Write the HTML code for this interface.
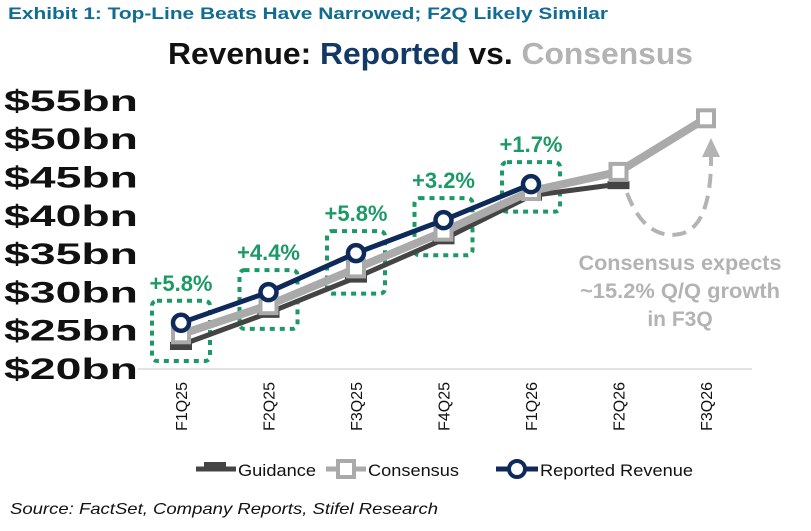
<!DOCTYPE html>
<html><head><meta charset="utf-8"><style>
body{margin:0;width:811px;height:526px;background:#fff;font-family:"Liberation Sans",Arial,sans-serif;overflow:hidden}
</style></head><body>
<svg width="811" height="526" xmlns="http://www.w3.org/2000/svg">
<text x="8" y="19" font-size="17" font-weight="bold" fill="#0f6c93" textLength="600" lengthAdjust="spacingAndGlyphs">Exhibit 1: Top-Line Beats Have Narrowed; F2Q Likely Similar</text>
<text x="168" y="64" font-size="31" font-weight="bold" textLength="525" lengthAdjust="spacingAndGlyphs"><tspan fill="#111">Revenue: </tspan><tspan fill="#133a64">Reported</tspan><tspan fill="#111"> vs. </tspan><tspan fill="#b3b3b3">Consensus</tspan></text>
<g id="yaxis"></g>
<g id="xaxis"></g>
<line x1="138" y1="369" x2="752" y2="369" stroke="#d9d9d9" stroke-width="1.5"/>
<g id="boxes"></g>
<g id="series"></g>
<path d="M627,193 C640,228 660,238 680,234 C700,230 712,205 711,152" fill="none" stroke="#b3b3b3" stroke-width="4" stroke-dasharray="14,8"/>
<path d="M711,138 L702,157 L720,157 Z" fill="#b3b3b3"/>
<text font-size="21" font-weight="bold" fill="#b3b3b3" text-anchor="middle"><tspan x="680" y="270" textLength="203" lengthAdjust="spacingAndGlyphs">Consensus expects</tspan><tspan x="680" y="298" textLength="200" lengthAdjust="spacingAndGlyphs">~15.2% Q/Q growth</tspan><tspan x="680" y="326">in F3Q</tspan></text>
<g>
<line x1="196" y1="469" x2="236" y2="469" stroke="#444" stroke-width="5"/><rect x="204" y="462" width="22" height="9" fill="#444"/>
<text x="238" y="476" font-size="17" fill="#111" textLength="78" lengthAdjust="spacingAndGlyphs">Guidance</text>
<line x1="326" y1="469" x2="366" y2="469" stroke="#aaa" stroke-width="5"/><rect x="338" y="461" width="16" height="16" fill="#fff" stroke="#aaa" stroke-width="4"/>
<text x="368" y="476" font-size="17" fill="#111" textLength="91" lengthAdjust="spacingAndGlyphs">Consensus</text>
<line x1="496" y1="469" x2="538" y2="469" stroke="#0e2a5a" stroke-width="5"/><circle cx="517" cy="469" r="8" fill="#fff" stroke="#0e2a5a" stroke-width="4"/>
<text x="540" y="476" font-size="17" fill="#111" textLength="153" lengthAdjust="spacingAndGlyphs">Reported Revenue</text>
</g>
<text x="10" y="514" font-size="16" font-style="italic" fill="#111" textLength="428" lengthAdjust="spacingAndGlyphs">Source: FactSet, Company Reports, Stifel Research</text>
</svg>
<script>
const categories=["F1Q25","F2Q25","F3Q25","F4Q25","F1Q26","F2Q26","F3Q26"];
const guidance=[23.0,27.2,31.8,36.8,42.5,44.0,null];
const consensus=[24.4,28.2,33.0,37.8,43.1,45.6,52.6];
const reported=[25.9,29.9,35.0,39.3,44.0,null,null];
const beatLabels=["+5.8%","+4.4%","+5.8%","+3.2%","+1.7%"];
const yTicks=[20,25,30,35,40,45,50,55];
const NS="http://www.w3.org/2000/svg";
const x=i=>181+i*87.5;
const y=v=>368-(v-20)*7.66;
function mk(p,tag,a){const e=document.createElementNS(NS,tag);for(const k in a)e.setAttribute(k,a[k]);p.appendChild(e);return e;}
const ya=document.getElementById('yaxis');
yTicks.forEach(t=>{const e=mk(ya,'text',{x:4,y:y(t)+11,'font-size':30,'font-weight':'bold',fill:'#111',textLength:134,lengthAdjust:'spacingAndGlyphs'});e.textContent='$'+t+'bn';

});
const xa=document.getElementById('xaxis');
categories.forEach((c,i)=>{const e=mk(xa,'text',{x:0,y:0,'font-size':16,fill:'#111','text-anchor':'end',transform:`translate(${x(i)+6},382) rotate(-90)`});e.textContent=c;

});
const bx=document.getElementById('boxes');
beatLabels.forEach((l,i)=>{const top=y(reported[i])-22,bot=y(guidance[i])+16;
const r=mk(bx,'rect',{x:x(i)-29,y:top,width:58,height:bot-top,rx:5,fill:'none',stroke:'#1c9a66','stroke-width':4,'stroke-dasharray':'5,5'});


const t=mk(bx,'text',{x:x(i),y:top-10,'text-anchor':'middle','font-size':22,'font-weight':'bold',fill:'#1c9a66'});t.textContent=l;

});
const sg=document.getElementById('series');
function line(vals,color,w,name){const pts=vals.map((v,i)=>v==null?null:x(i)+','+y(v)).filter(Boolean).join(' ');
const p=mk(sg,'polyline',{points:pts,fill:'none',stroke:color,'stroke-width':w,'stroke-linejoin':'round'});

}
line(guidance,'#444',5,'guidance-line');
guidance.forEach((v,i)=>{if(v==null)return;const r=mk(sg,'rect',{x:x(i)-11,y:y(v)-3,width:22,height:8,fill:'#444'});

});
line(consensus,'#aaa',8,'consensus-line');
consensus.forEach((v,i)=>{if(v==null)return;const r=mk(sg,'rect',{x:x(i)-8,y:y(v)-8,width:16,height:16,fill:'#fff',stroke:'#aaa','stroke-width':4});

});
line(reported,'#0e2a5a',5,'reported-line');
reported.forEach((v,i)=>{if(v==null)return;const c=mk(sg,'circle',{cx:x(i),cy:y(v),r:8,fill:'#fff',stroke:'#0e2a5a','stroke-width':4.5});

});
</script>
</body></html>
